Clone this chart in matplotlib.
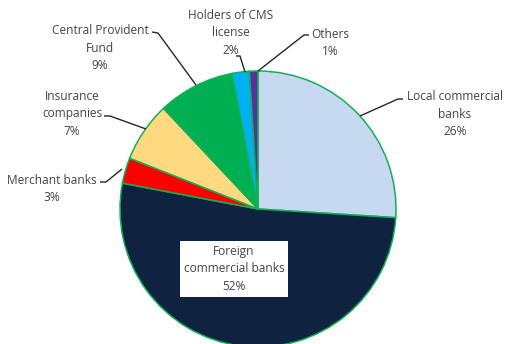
import matplotlib
matplotlib.use("Agg")
import matplotlib.pyplot as plt

plt.rcParams['font.family'] = ['Open Sans', 'DejaVu Sans']

categories = ["Local commercial\nbanks", "Foreign\ncommercial banks", "Merchant banks",
              "Insurance\ncompanies", "Central Provident\nFund", "Holders of CMS\nlicense", "Others"]
shares = [26, 52, 3, 7, 9, 2, 1]
colors = ["#C6D9F1", "#0F223F", "#FF0000", "#FFD97F", "#00B050", "#00B0F0", "#5A2FA0"]

W, H = 508, 344
fig = plt.figure(figsize=(W / 100, H / 100), dpi=100)
ax = fig.add_axes([0, 0, 1, 1])

def P(x, y):
    # pixel-style coordinates (origin top-left) to axes data
    return (x, H - y)

cx, cy = P(258, 209)
ax.pie(shares, colors=colors, startangle=90, counterclock=False,
       center=(cx, cy), radius=138, frame=True,
       wedgeprops=dict(edgecolor="#12B055", linewidth=1.1))
ax.set_xlim(0, W)
ax.set_ylim(0, H)
ax.axis("off")

txt = dict(ha="center", va="center", fontsize=8.6, color="#444444", linespacing=1.45)

def label(i, x, y, **kw):
    ax.text(*P(x, y), f"{categories[i]}\n{shares[i]}%", **txt, **kw)

def leader(pts):
    xs, ys = zip(*[P(x, y) for x, y in pts])
    ax.plot(xs, ys, color="#262626", lw=1.0, solid_capstyle="butt")

label(0, 455, 114)
leader([(403, 99), (398, 99), (360, 116)])

label(1, 234, 269, bbox=dict(boxstyle="square,pad=0.35", fc="white", ec="none"))

label(2, 52, 189)
leader([(100, 182), (106, 182), (122, 169)])

label(3, 72, 114)
leader([(104, 116), (110, 116), (146, 129)])

label(4, 100, 48)
leader([(152, 32), (158, 33), (196, 85)])

label(5, 231, 33)
leader([(236, 56), (240, 56), (245, 72)])

label(6, 330, 43)
leader([(309, 35), (304, 35), (258, 71)])

fig.savefig("out.png", dpi=100)
